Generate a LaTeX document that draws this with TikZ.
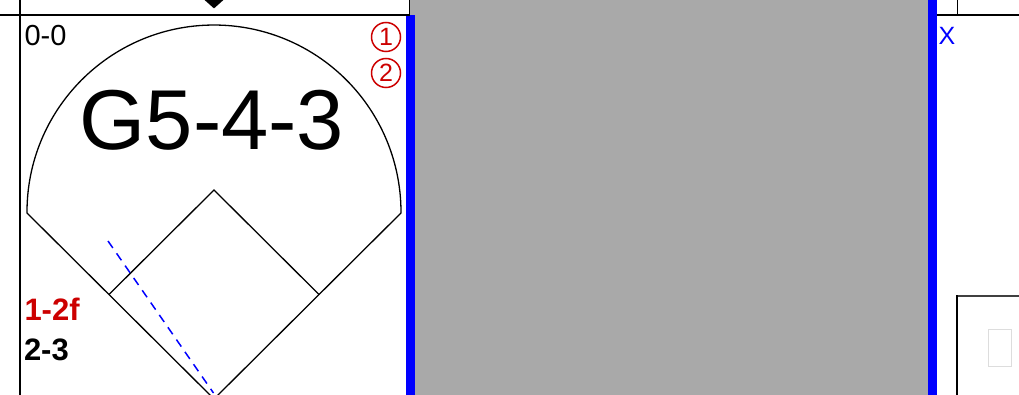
\documentclass[tikz,border=0pt]{standalone}
\usepackage{fontspec}
\setmainfont{Liberation Sans}
\usetikzlibrary{shapes.geometric}
\definecolor{cellgray}{HTML}{A9A9A9}
\definecolor{markred}{HTML}{CC0000}
\definecolor{lightbox}{HTML}{DDDDDD}
\tikzset{
  txt/.style={inner sep=0pt, outer sep=0pt},
  gridline/.style={line width=1.4pt, black},
  fieldline/.style={line width=1.3pt, black, line join=miter},
  bluebar/.style={fill=blue, draw=none},
  circnum/.style={circle, draw=markred, text=markred, line width=1.5pt, minimum size=29pt, inner sep=0pt, font=\fontsize{25}{25}\selectfont},
}
\begin{document}
\begin{tikzpicture}[x=1pt,y=-1pt]
\useasboundingbox (0,0) rectangle (1019,395);
\begin{scope}
\clip (0,0) rectangle (1019,395);
% gray cell and blue bars
\fill[cellgray] (410,0) rectangle (932,395);
\fill[bluebar] (405.5,15) rectangle (414.5,396);
\fill[bluebar] (928,-1) rectangle (937,396);
% grid lines
\draw[gridline] (-1,15) -- (409.5,15);
\draw[gridline] (20,-1) -- (20,396);
\draw[gridline] (409.5,-1) -- (409.5,15);
\draw[gridline] (937,15) -- (1020,15);
\draw[gridline] (957.5,-1) -- (957.5,15);
% bottom-right box
\draw[line width=1.5pt, black!75] (957,296) -- (1020,296);
\draw[line width=1.5pt, black] (957,295.3) -- (957,396);
\draw[line width=1.3pt, lightbox] (988.5,329.5) rectangle (1011.5,366.5);
% marker in the cell above
\node[diamond, fill=black, draw=none, minimum width=19pt, minimum height=17pt, inner sep=0pt] (mark) at (214,0) {};
% field
\coordinate (home) at (214,399);
\coordinate (second) at (214,190);
\coordinate (third) at (109,294.5);
\coordinate (first) at (319,294.5);
\coordinate (lfoul) at (27,213);
\draw[fieldline] (home) -- (lfoul) arc[start angle=180.3, end angle=-0.3, radius=187pt] -- (home);
\draw[fieldline] (third) -- (second) -- (first);
\coordinate (hitstart) at (108,241);
\coordinate (hitend) at (213.5,393);
\draw[blue, line width=1.5pt, dash pattern=on 8.5pt off 6.5pt] (hitstart) -- (hitend);
\end{scope}
% texts
\node[txt, anchor=base west, font=\fontsize{29}{29}\selectfont] (count) at (24.5,45.5) {0-0};
\node[txt, anchor=base, font=\fontsize{85}{85}\selectfont] (play) at (212,149.5) {G5-4-3};
\node[txt, anchor=base west, text=markred, font=\bfseries\fontsize{31}{31}\selectfont] (pitch1) at (24.5,320.5) {1-2f};
\node[txt, anchor=base west, font=\bfseries\fontsize{31}{31}\selectfont] (pitch2) at (24,360) {2-3};
\node[txt, anchor=base west, text=blue, font=\fontsize{25}{25}\selectfont] (xmark) at (938.5,45) {X};
\node[circnum] (c1) at (386,37) {1};
\node[circnum] (c2) at (386,73) {2};
\end{tikzpicture}
\end{document}
